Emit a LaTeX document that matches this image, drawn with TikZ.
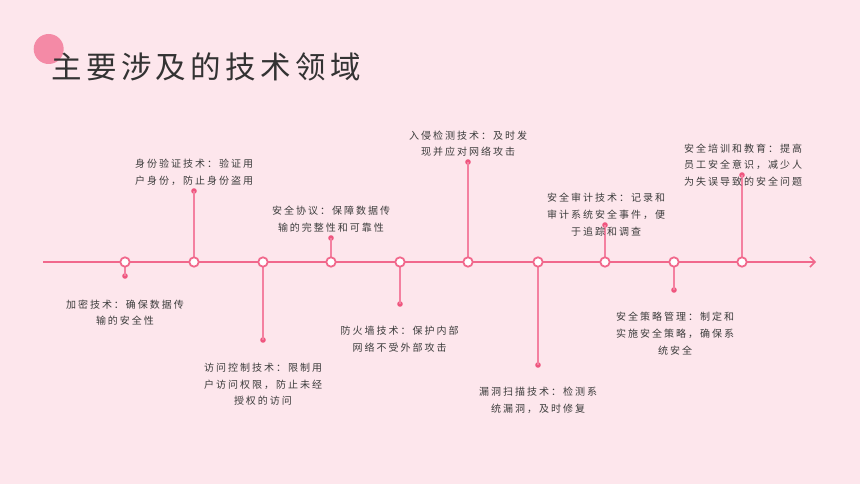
\documentclass[tikz,border=0pt]{standalone}
\usepackage{fontspec}
\usetikzlibrary{arrows.meta}
\newfontfamily\bodyfont[LetterSpace=20]{Noto Sans CJK SC}
\newfontfamily\titlefont[LetterSpace=14.5]{Noto Sans CJK SC}
\definecolor{bgpink}{RGB}{253,230,236}
\definecolor{linepink}{RGB}{241,104,140}
\definecolor{stempink}{RGB}{244,128,160}
\definecolor{dotpink}{RGB}{239,86,127}
\definecolor{blobpink}{RGB}{244,138,166}
\definecolor{txtgray}{RGB}{60,60,60}
\tikzset{
  every picture/.style={x=1pt,y=-1pt},
  hub/.style={circle,draw=linepink,fill=white,line width=1.8pt,minimum size=9.4pt,inner sep=0pt},
  enddot/.style={circle,fill=dotpink,minimum size=5.6pt,inner sep=0pt},
  stem/.style={draw=stempink,line width=1.2pt},
  desc/.style={font=\bodyfont\fontsize{10}{16.7}\selectfont,text=txtgray,align=center,inner sep=0pt},
  axis/.style={draw=linepink,line width=1.5pt}
}
\begin{document}
\begin{tikzpicture}
\fill[bgpink] (0,0) rectangle (860,484);
\useasboundingbox (0,0) rectangle (860,484);
% title
\fill[blobpink] (48.7,49) circle (15);
\node[font=\titlefont\fontsize{30.5}{34}\selectfont,text=txtgray!85!black,anchor=west,inner sep=0pt] (title) at (51,67) {主要涉及的技术领域};
% axis
\coordinate (axstart) at (43,262);
\coordinate (axend) at (816,262);
\draw[axis,-{Straight Barb[length=5pt,width=10pt,line width=1.5pt]}] (axstart) -- (axend);
% hubs and end dots
\foreach \n/\x/\y in {1/125/276, 2/194/191, 3/263/340, 4/331/238, 5/400/304, 6/468/162, 7/538/365, 8/605/225, 9/674/290, 10/742/175}{
  \node[enddot] (d\n) at (\x,\y) {};
  \draw[stem] (\x,262) -- (d\n.center);
  \node[hub] (h\n) at (\x,262) {};
}
% descriptions
\node[desc] (t1) at (125,312.5) {加密技术：确保数据传\\输的安全性};
\node[desc] (t2) at (194,172.5) {身份验证技术：验证用\\户身份，防止身份盗用};
\node[desc] (t3) at (263,384.3) {访问控制技术：限制用\\户访问权限，防止未经\\授权的访问};
\node[desc] (t4) at (331,219.2) {安全协议：保障数据传\\输的完整性和可靠性};
\node[desc] (t5) at (399.5,339.2) {防火墙技术：保护内部\\网络不受外部攻击};
\node[desc] (t6) at (468,143.7) {入侵检测技术：及时发\\现并应对网络攻击};
\node[desc] (t7) at (538,400.3) {漏洞扫描技术：检测系\\统漏洞，及时修复};
\node[desc] (t8) at (606,214.6) {安全审计技术：记录和\\审计系统安全事件，便\\于追踪和调查};
\node[desc] (t9) at (675,333.7) {安全策略管理：制定和\\实施安全策略，确保系\\统安全};
\node[desc] (t10) at (743,165) {安全培训和教育：提高\\员工安全意识，减少人\\为失误导致的安全问题};
\end{tikzpicture}
\end{document}
